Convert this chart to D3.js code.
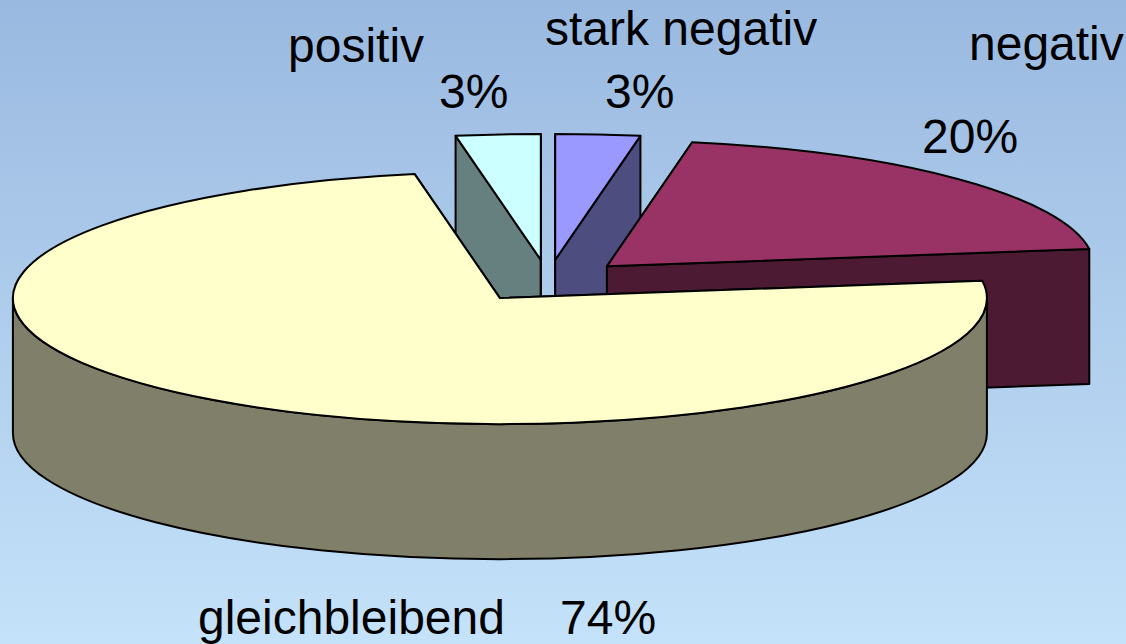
<!DOCTYPE html>
<html>
<head>
  <meta charset="utf-8">
  <script src="https://d3js.org/d3.v7.min.js"></script>
  <style>
    html, body { margin: 0; padding: 0; }
    svg { display: block; }
    text { font-family: "Liberation Sans", Arial, sans-serif; font-size: 48px; fill: #000; }
    path.face { stroke: #000; stroke-width: 2px; stroke-linejoin: round; }
  </style>
</head>
<body>
  <script>
    // values in percent, clockwise from 12 o'clock. labels round them
    const categories = ['stark negativ', 'negativ', 'gleichbleibend', 'positiv'];
    const values = [2.8, 20, 74.4, 2.8];
    const topColors = ['#9999ff', '#993366', '#ffffcc', '#ccffff'];
    const sideColors = ['#4d4d80', '#4d1a33', '#80806a', '#668080'];

    const width = 1126, height = 644;
    const cx = 548, cy = 281;
    const rx = 487, ry = 126;
    const depth = 135;
    const explode = 0.168;

    const svg = d3.select('body').append('svg')
      .attr('width', width)
      .attr('height', height);

    const bg = svg.append('defs').append('linearGradient')
      .attr('id', 'bg')
      .attr('x1', 0).attr('y1', 0).attr('x2', 0).attr('y2', 1);
    bg.append('stop').attr('offset', '0%').attr('stop-color', '#9ab9e0');
    bg.append('stop').attr('offset', '100%').attr('stop-color', '#c4e2f9');

    svg.append('rect')
      .attr('width', width)
      .attr('height', height)
      .attr('fill', 'url(#bg)');

    const pie = d3.pie().sort(null).value(d => d)(values);

    // flat unit circle -> squashed screen ellipse
    const x = d3.scaleLinear().domain([-1, 1]).range([cx - rx, cx + rx]);
    const y = d3.scaleLinear().domain([-1, 1]).range([cy - ry, cy + ry]);

    function rim(a, o) {
      return [x(o[0] + Math.sin(a)), y(o[1] - Math.cos(a))];
    }

    // d3.path has no elliptical arc so write the svg arc by hand
    function ellipseTo(from, to, o, dy) {
      const e = rim(to, o);
      return `A${rx},${ry} 0 ${Math.abs(to - from) > Math.PI ? 1 : 0} ${to > from ? 1 : 0} ${e[0]},${e[1] + dy}`;
    }

    function topFace(s, o) {
      const a = [x(o[0]), y(o[1])], b = rim(s.startAngle, o);
      return `M${a}L${b}` + ellipseTo(s.startAngle, s.endAngle, o, 0) + 'Z';
    }

    function radialWall(angle, o) {
      const a = [x(o[0]), y(o[1])], b = rim(angle, o);
      return `M${a}L${b}L${b[0]},${b[1] + depth}L${a[0]},${a[1] + depth}Z`;
    }

    // the front half of the rim, clipped to the slice
    function outerWall(s, o) {
      const from = Math.max(s.startAngle, Math.PI / 2);
      const to = Math.min(s.endAngle, Math.PI * 1.5);
      if (to <= from) return null;
      const b = rim(from, o), e = rim(to, o);
      return `M${b}` + ellipseTo(from, to, o, 0) +
        `L${e[0]},${e[1] + depth}` + ellipseTo(to, from, o, depth) + 'Z';
    }

    const order = [3, 0, 1, 2];

    order.forEach(i => {
      const s = pie[i];
      const mid = (s.startAngle + s.endAngle) / 2;
      const o = [explode * Math.sin(mid), -explode * Math.cos(mid)];
      const g = svg.append('g').attr('class', 'slice');
      const walls = [radialWall(s.startAngle, o), radialWall(s.endAngle, o), outerWall(s, o)];
      walls.filter(d => d).forEach(d => {
        g.append('path').attr('class', 'face').attr('d', d).attr('fill', sideColors[i]);
      });
      g.append('path').attr('class', 'face').attr('d', topFace(s, o)).attr('fill', topColors[i]);
    });

    const pct = v => Math.round(v) + '%';

    const labels = [
      { text: categories[3], x: 288, y: 62 },
      { text: pct(values[3]), x: 439, y: 108 },
      { text: categories[0], x: 545, y: 45 },
      { text: pct(values[0]), x: 605, y: 108 },
      { text: categories[1], x: 969, y: 60 },
      { text: pct(values[1]), x: 922, y: 153 },
      { text: categories[2], x: 198, y: 634 },
      { text: pct(values[2]), x: 560, y: 634 }
    ];

    svg.selectAll('text.label')
      .data(labels)
      .enter()
      .append('text')
      .attr('class', 'label')
      .attr('x', d => d.x)
      .attr('y', d => d.y)
      .text(d => d.text);
  </script>
</body>
</html>
